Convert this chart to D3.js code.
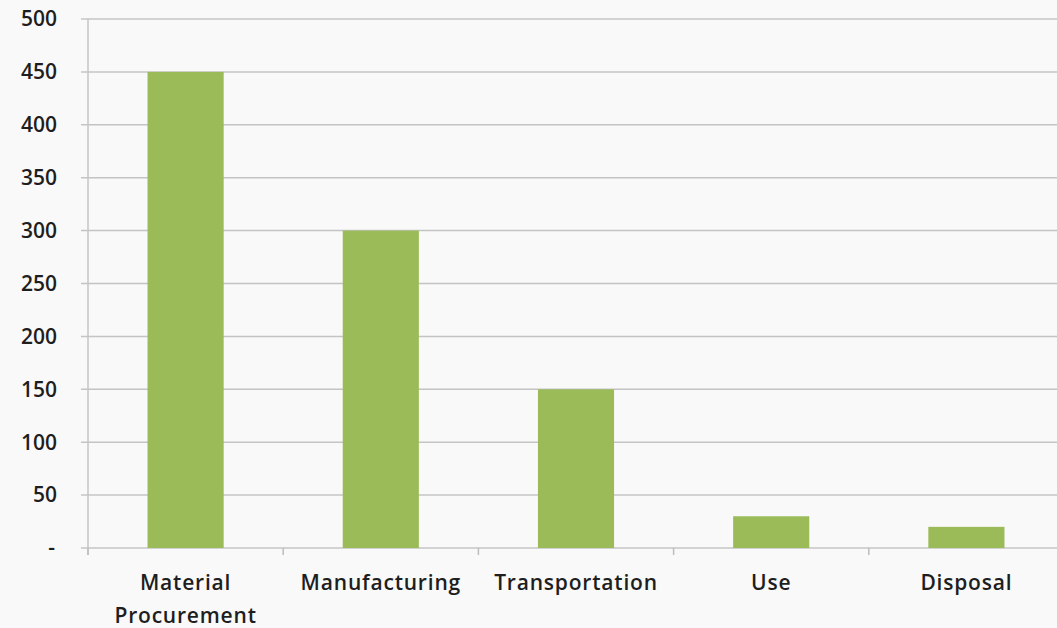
<!DOCTYPE html>
<html><head><meta charset="utf-8">
<script src="https://cdn.jsdelivr.net/npm/d3@7"></script>
<style>
html,body{margin:0;padding:0;background:#f9f9f9;}
svg{display:block;}
</style></head>
<body>
<svg id="c" width="1057" height="628"></svg>
<script>
const categories = [["Material","Procurement"],["Manufacturing"],["Transportation"],["Use"],["Disposal"]];
const values = [450, 300, 150, 30, 20];
const yTicks = [0, 50, 100, 150, 200, 250, 300, 350, 400, 450, 500];
const yTickLabels = ["-", "50", "100", "150", "200", "250", "300", "350", "400", "450", "500"];

(function(){
const svg = d3.select("#c");
const pLeft = 88, pRight = 1064, pTop = 19, pBottom = 548;
const x = d3.scaleBand().domain(d3.range(categories.length)).range([pLeft, pRight]).paddingInner(0.61).paddingOuter(0.305);
const y = d3.scaleLinear().domain([0, 500]).range([pBottom, pTop]);
const band = (pRight - pLeft) / categories.length;

const font = "'Open Sans', sans-serif";
// gridlines
svg.append("g").selectAll("line").data(yTicks).join("line")
  .attr("x1", pLeft - 7).attr("x2", 1057)
  .attr("y1", d => y(d)).attr("y2", d => y(d))
  .attr("stroke", "#c4c4c4").attr("stroke-width", 1.5);
// y axis line
svg.append("line").attr("x1", pLeft).attr("x2", pLeft).attr("y1", pTop).attr("y2", pBottom + 7)
  .attr("stroke", "#c4c4c4").attr("stroke-width", 1.5);
// x ticks
svg.append("g").selectAll("line").data(d3.range(categories.length + 1)).join("line")
  .attr("x1", i => pLeft + i * band).attr("x2", i => pLeft + i * band)
  .attr("y1", pBottom).attr("y2", pBottom + 7)
  .attr("stroke", "#bdbdbd").attr("stroke-width", 1.5);
// bars
svg.append("g").selectAll("rect").data(values).join("rect")
  .attr("x", (d, i) => x(i)).attr("width", x.bandwidth())
  .attr("y", d => y(d)).attr("height", d => y(0) - y(d))
  .attr("fill", "#9bbb59");
// y labels
svg.append("g").selectAll("text").data(yTicks).join("text")
  .attr("x", d => d === 0 ? 55 : 57).attr("y", d => y(d)).attr("dy", "0.35em")
  .attr("text-anchor", "end")
  .attr("font-family", font).attr("font-size", 21).attr("font-weight", 600).attr("fill", "#1e1e1e")
  .text((d, i) => yTickLabels[i]);
// x labels
const xl = svg.append("g").selectAll("text").data(categories).join("text")
  .attr("x", (d, i) => x(i) + x.bandwidth() / 2).attr("y", 590)
  .attr("text-anchor", "middle")
  .attr("letter-spacing", 0.8)
  .attr("font-family", font).attr("font-size", 21).attr("font-weight", 600).attr("fill", "#1e1e1e");
xl.selectAll("tspan").data(d => d).join("tspan")
  .attr("x", function() { return d3.select(this.parentNode).attr("x"); })
  .attr("dy", (d, i) => i === 0 ? 0 : 33)
  .text(d => d);
})();
</script>
</body></html>
